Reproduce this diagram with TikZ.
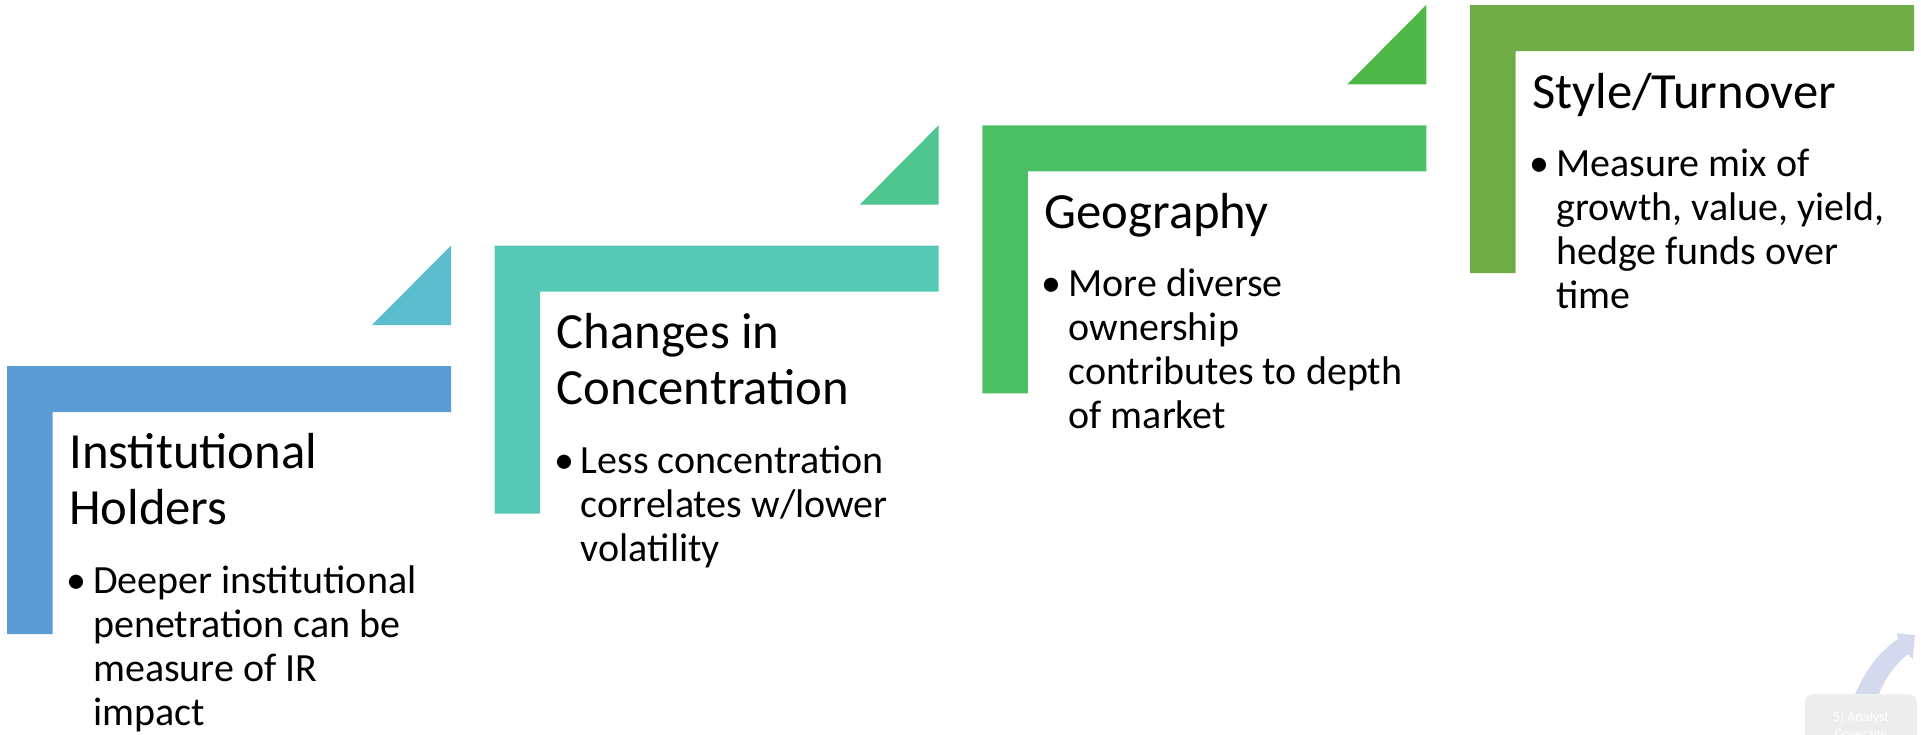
\documentclass[tikz,border=0pt]{standalone}
\usepackage{fontspec}
\setmainfont{Carlito}

\definecolor{stepone}{HTML}{5B9BD5}
\definecolor{triaone}{HTML}{5BBDCE}
\definecolor{steptwo}{HTML}{55C9B6}
\definecolor{triatwo}{HTML}{4FC590}
\definecolor{stepthree}{HTML}{4ABF65}
\definecolor{triathree}{HTML}{50B848}
\definecolor{stepfour}{HTML}{70AD47}
\definecolor{fadedbox}{HTML}{EDEDED}
\definecolor{fadedarrow}{HTML}{D4D9EE}

\begin{document}
\begin{tikzpicture}
    [%%%%%%%%%%%%%%%%%%%%%%%%%%%%%%
    x=0.75pt, y=-0.75pt,
    heading/.style={anchor=base west, inner sep=0pt, align=left, font=\fontsize{38}{41.8}\selectfont},
    bullettext/.style={anchor=base west, inner sep=0pt, align=left, font=\fontsize{30}{33}\selectfont},
    fadedlabel/.style={rectangle, rounded corners=6pt, fill=fadedbox, text=white, align=center,
        minimum width=84pt, minimum height=48pt, inner ysep=5pt, anchor=north,
        font=\fontsize{10.5}{12.7}\selectfont},
    ]%%%%%%%%%%%%%%%%%%%%%%%%%%%%%%

    \clip (0,0) rectangle (1921,735);

    % institutional holders (base = last line)
    \fill[stepone] (7,366) -- (451,366) -- (451,412) -- (52.5,412) -- (52.5,634) -- (7,634) -- cycle;
    \fill[triaone] (451,245.5) -- (451,325) -- (372,325) -- cycle;
    \node[heading] at (69,524.7) (holders) {Institutional\\Holders};
    \node[bullettext] at (93,725.5) (holders_text)
        {\llap{\textbullet\hspace{5pt}}Deeper institutional\\penetration can be\\measure of IR\\impact};

    % changes in concentration
    \fill[steptwo] (494.7,245.7) -- (938.7,245.7) -- (938.7,291.7) -- (540.2,291.7) -- (540.2,513.7) -- (494.7,513.7) -- cycle;
    \fill[triatwo] (938.7,125.2) -- (938.7,204.7) -- (859.7,204.7) -- cycle;
    \node[heading] at (556.7,404.4) (concentration) {Changes in\\Concentration};
    \node[bullettext] at (580.7,561.2) (concentration_text)
        {\llap{\textbullet\hspace{5pt}}Less concentration\\correlates w/lower\\volatility};

    % geography
    \fill[stepthree] (982.3,125.4) -- (1426.3,125.4) -- (1426.3,171.4) -- (1027.8,171.4) -- (1027.8,393.4) -- (982.3,393.4) -- cycle;
    \fill[triathree] (1426.3,4.9) -- (1426.3,84.4) -- (1347.3,84.4) -- cycle;
    \node[heading] at (1044.3,228.4) (geography) {Geography};
    \node[bullettext] at (1068.3,428.9) (geography_text)
        {\llap{\textbullet\hspace{5pt}}More diverse\\ownership\\contributes to depth\\of market};

    % style/turnover
    \fill[stepfour] (1470,5.1) -- (1914,5.1) -- (1914,51.1) -- (1515.5,51.1) -- (1515.5,273.1) -- (1470,273.1) -- cycle;
    \node[heading] at (1532,108.1) (turnover) {Style/Turnover};
    \node[bullettext] at (1556,308.6) (turnover_text)
        {\llap{\textbullet\hspace{5pt}}Measure mix of\\growth, value, yield,\\hedge funds over\\time};

    % faded next step
    \node[fadedlabel] at (1861,694) (analyst) {5) Analyst\\Coverage};
    \fill[fadedarrow] (1855,694) .. controls (1868,665) and (1882,650) .. (1898,639)
        -- (1896.7,633.3) -- (1915,635) -- (1912.7,659.3) -- (1908,654)
        .. controls (1895,665) and (1885,678) .. (1879,694) -- cycle;

\end{tikzpicture}
\end{document}
